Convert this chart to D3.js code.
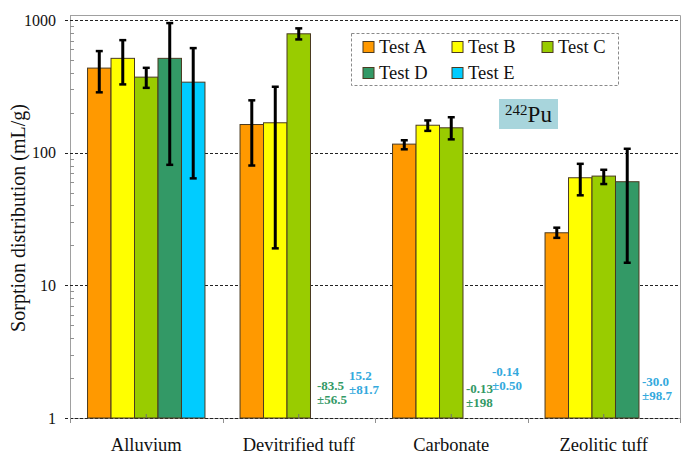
<!DOCTYPE html>
<html>
<head>
<meta charset="utf-8">
<script src="https://cdn.jsdelivr.net/npm/d3@7"></script>
<style>
  html, body { margin: 0; padding: 0; background: #fff; }
  svg { display: block; }
</style>
</head>
<body>
<svg id="chart" width="685" height="464"></svg>
<script>
// ---- data ----
const categories = ["Alluvium", "Devitrified tuff", "Carbonate", "Zeolitic tuff"];
const tests = ["Test A", "Test B", "Test C", "Test D", "Test E"];
const colors = ["#ff9900", "#ffff00", "#99cc00", "#339966", "#00ccff"];

// values per test, in category order (null = not plotted)
const testA = [434, 163, 116, 24.9];
const testB = [514, 168, 161, 64.7];
const testC = [371, 787, 154, 66.6];
const testD = [514, null, null, 60.4];
const testE = [340, null, null, null];

// error bar bounds
const testALow = [285, 80, 106, 22.8];
const testAHigh = [583, 248, 124, 27.2];
const testBLow = [327, 19, 146, 47.7];
const testBHigh = [705, 314, 175, 82.4];
const testCLow = [308, 714, 126, 58];
const testCHigh = [436, 865, 185, 74.3];
const testDLow = [81, null, null, 14.8];
const testDHigh = [948, null, null, 107];
const testELow = [64, null, null, null];
const testEHigh = [614, null, null, null];

// annotations for values that cannot be plotted on the log axis
const noteCategory = ["Devitrified tuff", "Devitrified tuff", "Carbonate", "Carbonate", "Zeolitic tuff"];
const noteTest = ["Test D", "Test E", "Test D", "Test E", "Test E"];
const noteValue = ["-83.5", "15.2", "-0.13", "-0.14", "-30.0"];
const noteError = ["±56.5", "±81.7", "±198", "±0.50", "±98.7"];

const yTicks = [1, 10, 100, 1000];

const values = [testA, testB, testC, testD, testE];
const lows = [testALow, testBLow, testCLow, testDLow, testELow];
const highs = [testAHigh, testBHigh, testCHigh, testDHigh, testEHigh];

(function () {
// ---- layout ----
const svg = d3.select("#chart");
const pL = 70, pR = 680, pT = 15, pB = 418;
const font = "'Liberation Serif', 'Times New Roman', serif";

const x = d3.scaleBand().domain(categories).range([pL, pR]).padding(0);
const bw = x.bandwidth();
const xi = d3.scaleBand().domain(tests).range([bw * 0.115, bw * 0.885]).padding(0);
const y = d3.scaleLog().domain([1, 1000]).range([pB, 20]);

// plot frame (top / right)
svg.append("path")
  .attr("d", `M${pL},${pT + 0.5}H${pR + 0.5}V${pB}`)
  .attr("fill", "none").attr("stroke", "#a0a0a0").attr("stroke-width", 1);

// left axis line
svg.append("line").attr("x1", pL + 0.5).attr("x2", pL + 0.5).attr("y1", pT).attr("y2", pB + 4)
  .attr("stroke", "#a0a0a0");
// bottom axis line
svg.append("line").attr("x1", pL).attr("x2", pR).attr("y1", pB + 0.5).attr("y2", pB + 0.5)
  .attr("stroke", "#a0a0a0");

// minor ticks (inward)
const minor = [];
for (let d = 1; d < 1000; d *= 10) for (let k = 2; k <= 9; k++) minor.push(d * k);
svg.append("g").selectAll("line").data(minor).join("line")
  .attr("x1", pL).attr("x2", pL + 4)
  .attr("y1", d => Math.round(y(d)) + 0.5).attr("y2", d => Math.round(y(d)) + 0.5)
  .attr("stroke", "#909090");

// major ticks + gridlines
svg.append("g").selectAll("line").data(yTicks).join("line")
  .attr("x1", pL - 5).attr("x2", pR)
  .attr("y1", d => Math.round(y(d)) + 0.5).attr("y2", d => Math.round(y(d)) + 0.5)
  .attr("stroke", "#222").attr("stroke-dasharray", "3,2");

svg.append("g").selectAll("text").data(yTicks).join("text")
  .attr("x", 56).attr("y", d => y(d)).attr("dy", "0.35em")
  .attr("text-anchor", "end")
  .attr("font-family", font).attr("font-size", 16).attr("fill", "#111")
  .text(d => d);

// category boundary ticks
const bounds = categories.map(c => x(c)).concat([pR]);
svg.append("g").selectAll("line").data(bounds).join("line")
  .attr("x1", d => Math.round(d) + 0.5).attr("x2", d => Math.round(d) + 0.5)
  .attr("y1", pB).attr("y2", pB + 5)
  .attr("stroke", "#909090");

// bars
const barData = [];
values.forEach((arr, ti) => arr.forEach((v, ci) => {
  if (v != null) barData.push({ t: tests[ti], c: categories[ci], v, lo: lows[ti][ci], hi: highs[ti][ci], color: colors[ti] });
}));

svg.append("g").selectAll("rect").data(barData).join("rect")
  .attr("x", d => x(d.c) + xi(d.t))
  .attr("y", d => y(d.v))
  .attr("width", xi.bandwidth())
  .attr("height", d => pB - y(d.v))
  .attr("fill", d => d.color)
  .attr("stroke", "#4a3a20").attr("stroke-width", 1);

// small center ticks
svg.append("g").selectAll("line").data(categories).join("line")
  .attr("x1", d => x(d) + bw / 2).attr("x2", d => x(d) + bw / 2)
  .attr("y1", pB).attr("y2", pB - 4)
  .attr("stroke", "#707070");

// error bars
const eb = svg.append("g").attr("stroke", "#000");
barData.forEach(d => {
  const cx = x(d.c) + xi(d.t) + xi.bandwidth() / 2;
  eb.append("line").attr("x1", cx).attr("x2", cx).attr("y1", y(d.lo)).attr("y2", y(d.hi)).attr("stroke-width", 3);
  [d.lo, d.hi].forEach(v => {
    eb.append("line").attr("x1", cx - 3.5).attr("x2", cx + 3.5).attr("y1", y(v)).attr("y2", y(v)).attr("stroke-width", 2.5);
  });
});

// annotations
const notePos = {
  "Devitrified tuff|Test D": [317, 385], "Devitrified tuff|Test E": [349, 375],
  "Carbonate|Test D": [466, 388], "Carbonate|Test E": [492, 371],
  "Zeolitic tuff|Test E": [642, 381]
};
const noteColor = { "Test D": "#339966", "Test E": "#33a9dd" };
noteValue.forEach((v, i) => {
  const key = noteCategory[i] + "|" + noteTest[i];
  const p = notePos[key];
  const t = svg.append("text").attr("font-family", font).attr("font-size", 13)
    .attr("font-weight", "bold").attr("fill", noteColor[noteTest[i]]);
  t.append("tspan").attr("x", p[0]).attr("y", p[1] + 4.5).text(v);
  t.append("tspan").attr("x", p[0]).attr("y", p[1] + 18.5).text(noteError[i]);
});

// x labels
svg.append("g").selectAll("text").data(categories).join("text")
  .attr("x", d => x(d) + bw / 2).attr("y", 451)
  .attr("text-anchor", "middle")
  .attr("font-family", font).attr("font-size", 18.5).attr("fill", "#111")
  .text(d => d);

// y title
svg.append("text")
  .attr("transform", "translate(25,218) rotate(-90)")
  .attr("text-anchor", "middle")
  .attr("font-family", font).attr("font-size", 20).attr("fill", "#111")
  .text("Sorption distribution (mL/g)");

// legend
const lg = svg.append("g");
lg.append("rect").attr("x", 351.5).attr("y", 33.5).attr("width", 267).attr("height", 52)
  .attr("fill", "#fff").attr("stroke", "#8a8a8a").attr("stroke-dasharray", "3,2");
const legX = [363, 452, 542];
const legY = [47, 73];
tests.forEach((t, i) => {
  const cx = legX[i % 3], cy = legY[Math.floor(i / 3)];
  lg.append("rect").attr("x", cx).attr("y", cy - 5.5).attr("width", 11).attr("height", 11)
    .attr("fill", colors[i]).attr("stroke", "#4a3a20");
  lg.append("text").attr("x", cx + 16).attr("y", cy).attr("dy", "0.35em")
    .attr("font-family", font).attr("font-size", 18.5).attr("fill", "#111").text(t);
});

// isotope label
svg.append("rect").attr("x", 499).attr("y", 99).attr("width", 59).attr("height", 30)
  .attr("fill", "#a8d5dc");
const iso = svg.append("text").attr("x", 528.5).attr("y", 122).attr("text-anchor", "middle")
  .attr("font-family", font).attr("fill", "#111");
iso.append("tspan").attr("font-size", 15).attr("dy", -7).text("242");
iso.append("tspan").attr("font-size", 23).attr("dy", 7).text("Pu");
})();
</script>
</body>
</html>
